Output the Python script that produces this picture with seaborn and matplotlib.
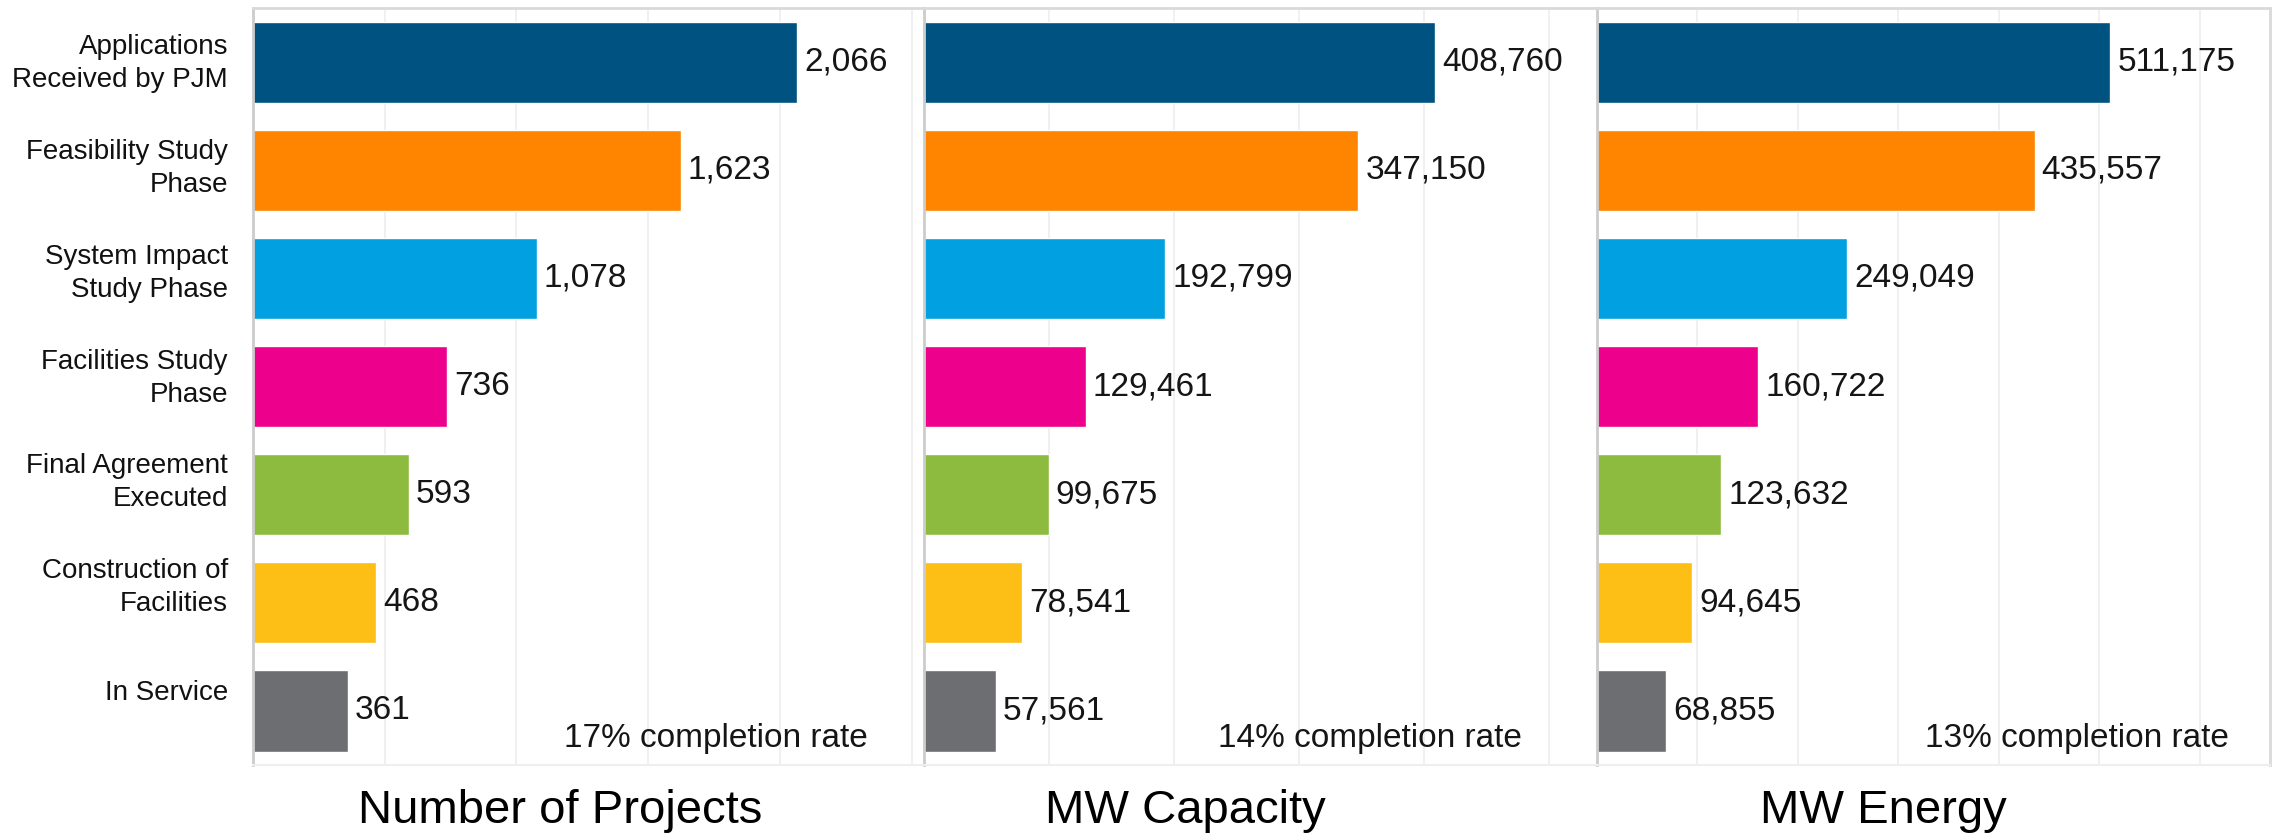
import matplotlib
matplotlib.use("Agg")
import matplotlib.pyplot as plt
import matplotlib.transforms as mtransforms
import seaborn as sns
import pandas as pd

stages = ["Applications\nReceived by PJM", "Feasibility Study\nPhase", "System Impact\nStudy Phase",
          "Facilities Study\nPhase", "Final Agreement\nExecuted", "Construction of\nFacilities", "In Service"]
projects = [2066, 1623, 1078, 736, 593, 468, 361]
mw_capacity = [408760, 347150, 192799, 129461, 99675, 78541, 57561]
mw_energy = [511175, 435557, 249049, 160722, 123632, 94645, 68855]
panel_titles = ["Number of Projects", "MW Capacity", "MW Energy"]
completion = ["17% completion rate", "14% completion rate", "13% completion rate"]
colors = ["#005280", "#FF8500", "#00A0E1", "#EC008C", "#8DBB40", "#FDBF16", "#6D6E72"]

sns.set_style("white")
plt.rcParams['font.family'] = ['Liberation Sans', 'DejaVu Sans']

fig = plt.figure(figsize=(22.81, 8.35), dpi=100)
bottom, height = 0.0838, 0.9066
lefts = [253/2281, 924/2281, 1597/2281]
widths = [671/2281, 673/2281, 673/2281]
xmaxes = [2547, 538000, 670000]
steps = [500, 100000, 100000]
title_x = [0.4575, 0.389, 0.426]
comp_x = [0.9165, 0.889, 0.939]
series = [projects, mw_capacity, mw_energy]

for i in range(3):
    ax = fig.add_axes([lefts[i], bottom, widths[i], height])
    df = pd.DataFrame({"stage": stages, "value": series[i]})
    sns.barplot(data=df, x="value", y="stage", hue="stage", palette=colors,
                legend=False, width=0.75, ax=ax, orient="h", saturation=1)
    ax.set_xlim(0, xmaxes[i])
    ax.set_ylim(6.5, -0.5)
    ticks = list(range(0, xmaxes[i] + 1, steps[i]))
    ax.set_xticks(ticks)
    ax.set_xticklabels([])
    ax.tick_params(axis='x', length=0)
    ax.grid(axis='x', color='#EEEEEE', lw=1.2)
    ax.set_axisbelow(True)
    ax.set_xlabel("")
    ax.set_ylabel("")
    for c in ax.containers:
        ax.bar_label(c, labels=[f"{v:,.0f}" for v in c.datavalues], padding=5,
                     fontsize=24, color='#151515')
    ax.set_yticklabels([])
    ax.tick_params(axis='y', length=0)
    if i == 0:
        base = mtransforms.blended_transform_factory(ax.transAxes, ax.transData)
        for k, lab in enumerate(stages):
            off = mtransforms.ScaledTranslation(0, (-1.2 + 2.4 * k) / 72, fig.dpi_scale_trans)
            ax.text(-0.0373, k, lab, transform=base + off, ha='right', va='center',
                    fontsize=20, color='#111111', linespacing=1.35, multialignment='right')
    for s in ['top', 'bottom', 'left', 'right']:
        ax.spines[s].set_visible(True)
    ax.spines['top'].set_color('#D9D9D9')
    ax.spines['top'].set_linewidth(2)
    ax.spines['bottom'].set_color('#EEEEEE')
    ax.spines['bottom'].set_linewidth(1.5)
    ax.spines['left'].set_color('#CCCCCC')
    ax.spines['left'].set_linewidth(2)
    if i == 2:
        ax.spines['right'].set_color('#D9D9D9')
        ax.spines['right'].set_linewidth(2)
    else:
        ax.spines['right'].set_visible(False)
    ax.text(comp_x[i], 0.024, completion[i], transform=ax.transAxes, ha='right',
            va='baseline', fontsize=24, color='#151515')
    ax.text(title_x[i], -0.077, panel_titles[i], transform=ax.transAxes, ha='center',
            va='baseline', fontsize=34, color='black')

fig.savefig("out.png", dpi=100)
